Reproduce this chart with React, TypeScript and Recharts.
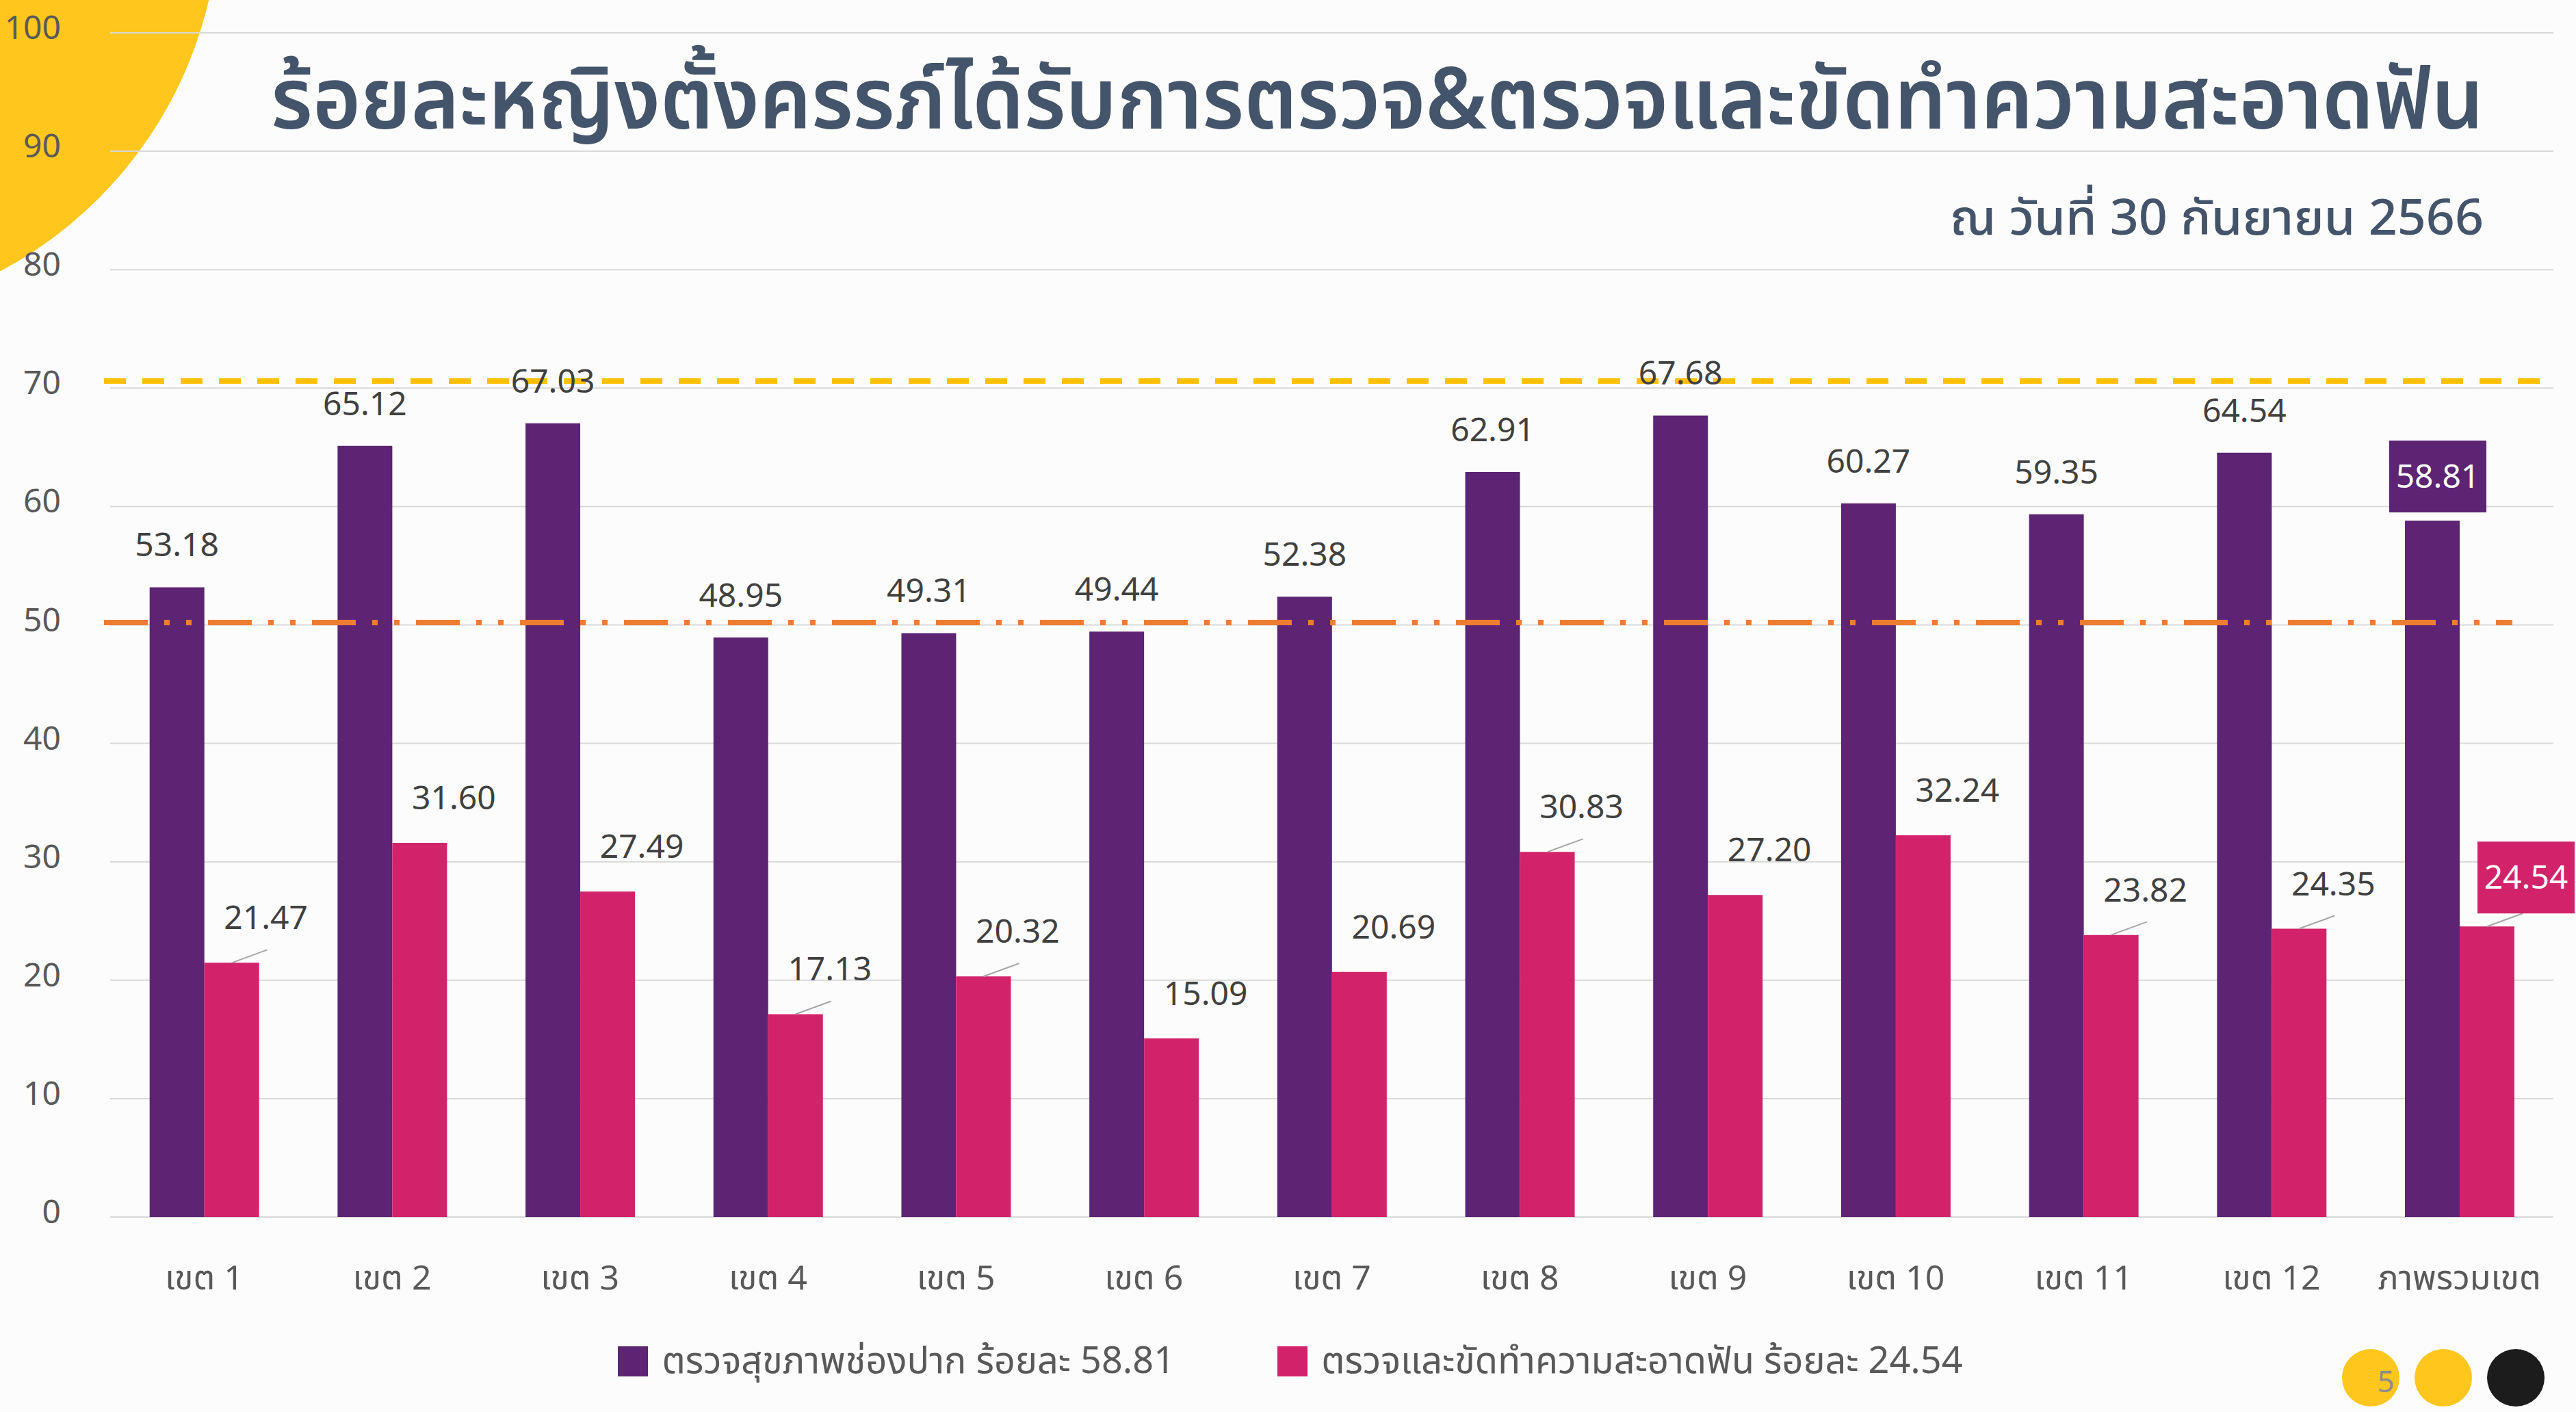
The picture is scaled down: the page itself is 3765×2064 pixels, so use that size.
import React from "react"
import {
  BarChart,
  Bar,
  XAxis,
  YAxis,
  CartesianGrid,
  ReferenceLine,
  LabelList,
  Legend,
} from "recharts"

const categories = [
  "เขต 1", "เขต 2", "เขต 3", "เขต 4", "เขต 5", "เขต 6", "เขต 7",
  "เขต 8", "เขต 9", "เขต 10", "เขต 11", "เขต 12", "ภาพรวมเขต",
]
const oralCheck = [53.18, 65.12, 67.03, 48.95, 49.31, 49.44, 52.38, 62.91, 67.68, 60.27, 59.35, 64.54, 58.81]
const cleaning = [21.47, 31.6, 27.49, 17.13, 20.32, 15.09, 20.69, 30.83, 27.2, 32.24, 23.82, 24.35, 24.54]
const yTicks = [0, 10, 20, 30, 40, 50, 60, 70, 80, 90, 100]
const seriesNames = ["ตรวจสุขภาพช่องปาก ร้อยละ 58.81", "ตรวจและขัดทำความสะอาดฟัน ร้อยละ 24.54"]
const targetHigh = 70.6
const targetLow = 50.2
// pink labels that were dragged away from the bar and got a leader line
const leaderCats = ["เขต 1", "เขต 4", "เขต 5", "เขต 8", "เขต 11", "เขต 12", "ภาพรวมเขต"]

const title = "ร้อยละหญิงตั้งครรภ์ได้รับการตรวจ&ตรวจและขัดทำความสะอาดฟัน"
const subtitle = "ณ วันที่ 30 กันยายน 2566"

const PURPLE = "#5C2473"
const PINK = "#D2236A"
const FONT = "'Noto Sans Thai', 'Noto Sans', sans-serif"

const data = categories.map((region, i) => ({
  region,
  oral: oralCheck[i],
  clean: cleaning[i],
}))

const lastIndex = categories.length - 1

function box(props: any) {
  const vb = props.viewBox ?? props
  return { x: vb.x, y: vb.y, width: vb.width }
}

function OralLabel(props: any) {
  const { x, y, width } = box(props)
  const cx = x + width / 2
  const txt = Number(props.value).toFixed(2)
  if (props.index === lastIndex) {
    const bx = cx + 8
    const by = y - 65
    return (
      <g>
        <rect x={bx - 71} y={by - 52} width={142} height={105} fill={PURPLE} />
        <text x={bx} y={by + 17} textAnchor="middle" fontSize={48} fill="#fff" fontFamily={FONT}>
          {txt}
        </text>
      </g>
    )
  }
  return (
    <text x={cx} y={y - 45} textAnchor="middle" fontSize={48} fill="#404040" fontFamily={FONT}>
      {txt}
    </text>
  )
}

function CleanLabel(props: any) {
  const { x, y, width } = box(props)
  const cx = x + width / 2
  const txt = Number(props.value).toFixed(2)
  const hasLeader = leaderCats.includes(categories[props.index])
  const leader = hasLeader ? (
    <line x1={cx} y1={y} x2={cx + 52} y2={y - 19} stroke="#a6a6a6" strokeWidth={2} />
  ) : null
  if (props.index === lastIndex) {
    const bx = cx + 57
    const by = y - 72
    return (
      <g>
        {leader}
        <rect x={bx - 71} y={by - 52} width={142} height={105} fill={PINK} />
        <text x={bx} y={by + 17} textAnchor="middle" fontSize={48} fill="#fff" fontFamily={FONT}>
          {txt}
        </text>
      </g>
    )
  }
  return (
    <g>
      {leader}
      <text x={cx + 50} y={y - 49} textAnchor="middle" fontSize={48} fill="#404040" fontFamily={FONT}>
        {txt}
      </text>
    </g>
  )
}

function CategoryTick(props: any) {
  return (
    <text x={props.x} y={props.y + 98} textAnchor="middle" fontSize={50} fill="#595959" fontFamily={FONT}>
      {props.payload.value}
    </text>
  )
}

function ValueTick(props: any) {
  return (
    <text x={props.x} y={props.y + 9} textAnchor="end" fontSize={48} fill="#595959" fontFamily={FONT}>
      {props.payload.value}
    </text>
  )
}

function LegendBox(props: any) {
  const items = props.payload ?? []
  return (
    <div
      style={{
        height: 80,
        display: "flex",
        justifyContent: "center",
        alignItems: "center",
        paddingLeft: 40,
        gap: 150,
        fontFamily: FONT,
        fontSize: 54,
        color: "#595959",
      }}
    >
      {items.map((it: any) => (
        <div key={it.value} style={{ display: "flex", alignItems: "center", gap: 20 }}>
          <div style={{ width: 44, height: 44, background: it.color }} />
          <span>{it.value}</span>
        </div>
      ))}
    </div>
  )
}

function trimmedLine(left: number, right: number) {
  return (p: any) => {
    const { x1, x2, y1, y2, ...rest } = p
    return <line {...rest} x1={x1 - left} x2={x2 - right} y1={y1} y2={y2} />
  }
}

export default function App() {
  return (
    <div
      style={{
        position: "absolute",
        left: 0,
        top: 0,
        width: 3765,
        height: 2064,
        background: "#fcfcfc",
        overflow: "hidden",
      }}
    >
      <svg width={3765} height={2064} style={{ position: "absolute", left: 0, top: 0 }}>
        <circle cx={-283} cy={-137} r={604} fill="#FFC61D" />
      </svg>

      <div style={{ position: "absolute", left: 0, top: 0 }}>
        <BarChart
          width={3765}
          height={2064}
          data={data}
          margin={{ top: 48, right: 33, left: 0, bottom: 34 }}
          barCategoryGap="21%"
          barGap={0}
        >
          <CartesianGrid vertical={false} stroke="#d9d9d9" strokeWidth={2} />
          <XAxis
            dataKey="region"
            height={171}
            axisLine={false}
            tickLine={false}
            tick={<CategoryTick />}
            interval={0}
          />
          <YAxis
            width={161}
            domain={[0, 100]}
            ticks={yTicks}
            axisLine={false}
            tickLine={false}
            tickMargin={66}
            tick={<ValueTick />}
          />
          <Legend verticalAlign="bottom" content={<LegendBox />} />
          <Bar dataKey="oral" name={seriesNames[0]} fill={PURPLE} isAnimationActive={false}>
            <LabelList dataKey="oral" content={<OralLabel />} />
          </Bar>
          <Bar dataKey="clean" name={seriesNames[1]} fill={PINK} isAnimationActive={false}>
            <LabelList dataKey="clean" content={<CleanLabel />} />
          </Bar>
          <ReferenceLine
            y={targetHigh}
            stroke="#FFC000"
            strokeWidth={8}
            strokeDasharray="32 24"
            shape={trimmedLine(9, 4)}
          />
          <ReferenceLine
            y={targetLow}
            stroke="#ED7D31"
            strokeWidth={8}
            strokeDasharray="64 24 8 24 8 24"
            shape={trimmedLine(9, 60)}
          />
        </BarChart>
      </div>

      <svg width={3765} height={2064} style={{ position: "absolute", left: 0, top: 0, pointerEvents: "none" }}>
        <text
          x={396}
          y={188}
          fontSize={124}
          fontWeight={600}
          fill="#44546A"
          fontFamily={FONT}
          textLength={3234}
          lengthAdjust="spacingAndGlyphs"
        >
          {title}
        </text>
        <text
          x={2850}
          y={343}
          fontSize={72}
          fontWeight={500}
          fill="#44546A"
          fontFamily={FONT}
          textLength={780}
          lengthAdjust="spacingAndGlyphs"
        >
          {subtitle}
        </text>
        <circle cx={3465} cy={2014} r={42} fill="#FFC61D" />
        <circle cx={3571} cy={2014} r={42} fill="#FFC61D" />
        <circle cx={3677} cy={2014} r={42} fill="#1C1C1C" />
        <text x={3487} y={2035} textAnchor="middle" fontSize={44} fill="#8c8c8c" fontFamily={FONT}>
          5
        </text>
      </svg>
    </div>
  )
}
